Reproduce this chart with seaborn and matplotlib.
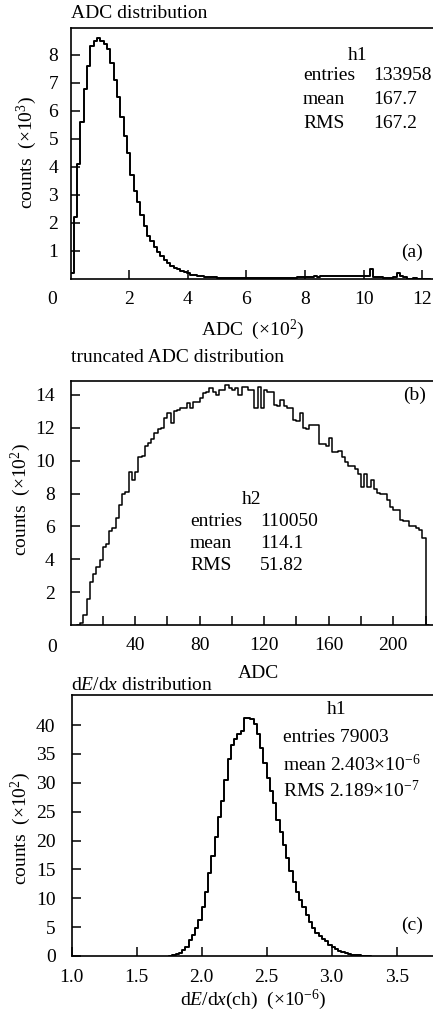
import numpy as np
import pandas as pd
import matplotlib
matplotlib.use("Agg")
import matplotlib.pyplot as plt
import seaborn as sns

# ---------------- data ----------------
# (a) ADC distribution, x in units of 10^2 ADC, counts in units of 10^3
adc_bin_start = 0.0
adc_bin_width = 0.1136
adc_counts = [
    0.2, 2.2, 4.1, 5.6, 6.8, 7.6, 8.3, 8.5, 8.6, 8.5,
    8.4, 8.2, 7.7, 7.1, 6.5, 5.8, 5.1, 4.5, 3.7, 3.15,
    2.75, 2.3, 1.9, 1.55, 1.35, 1.15, 0.97, 0.82, 0.68, 0.57,
    0.47, 0.40, 0.35, 0.30, 0.25, 0.20, 0.16, 0.13, 0.11, 0.09,
    0.08, 0.07, 0.06, 0.06, 0.05, 0.05, 0.05, 0.04, 0.04, 0.04,
    0.03, 0.03, 0.03, 0.03, 0.02, 0.02, 0.02, 0.02, 0.03, 0.02,
    0.03, 0.03, 0.03, 0.04, 0.04, 0.05, 0.04, 0.05, 0.06, 0.07,
    0.06, 0.08, 0.08, 0.09, 0.08, 0.09, 0.10, 0.09, 0.10, 0.11,
    0.10, 0.10, 0.11, 0.10, 0.10, 0.09, 0.10, 0.09, 0.10, 0.09,
    0.36, 0.08, 0.06, 0.06, 0.05, 0.05, 0.05, 0.06, 0.23, 0.12,
    0.06, 0.0, 0.0, 0.05, 0.0, 0.0, 0.0, 0.0,
]

# (b) truncated ADC distribution, counts in units of 10^2
trunc_bin_start = 4
trunc_bin_width = 2
trunc_counts = [
    0.0, 0.1, 0.6, 1.6, 2.6, 3.1, 3.5, 3.95, 4.75, 4.9,
    5.7, 5.9, 6.5, 7.3, 8.0, 8.1, 9.3, 8.8, 9.3, 10.2,
    10.3, 10.9, 11.1, 11.3, 11.7, 11.9, 12.0, 12.6, 12.9, 12.3,
    13.0, 13.1, 13.2, 13.2, 13.5, 13.2, 13.6, 13.6, 13.8, 14.1,
    14.2, 14.4, 14.2, 14.0, 14.3, 14.3, 14.6, 14.4, 14.3, 14.4,
    14.0, 14.5, 14.5, 14.3, 14.3, 13.2, 14.5, 13.2, 14.3, 14.2,
    14.2, 13.4, 13.3, 13.7, 13.3, 13.2, 13.2, 12.5, 12.4, 12.9,
    12.0, 11.9, 12.2, 12.2, 12.2, 11.0, 11.0, 10.9, 11.4, 10.5,
    10.5, 10.6, 10.2, 9.9, 9.7, 9.7, 9.5, 9.2, 8.4, 9.2,
    8.4, 8.85, 8.25, 8.05, 8.0, 8.0, 7.6, 7.2, 7.0, 7.0,
    6.4, 6.3, 6.3, 6.0, 6.0, 5.9, 5.8, 5.3, 0.0,
]

# (c) dE/dx distribution, x in units of 10^-6, counts in units of 10^2
dedx_bin_start = 1.750
dedx_bin_width = 0.025
dedx_counts = [
    0.0, 0.1, 0.3, 0.6, 1.1, 1.6, 2.7, 3.6, 4.8, 6.2,
    8.5, 11.1, 14.3, 17.4, 20.6, 24.0, 26.9, 30.5, 34.1, 36.5,
    37.5, 38.4, 39.0, 41.2, 41.2, 41.1, 40.1, 38.5, 36.0, 33.5,
    30.8, 28.5, 26.5, 23.5, 21.5, 19.3, 17.0, 14.8, 12.8, 11.1,
    9.65, 8.5, 7.07, 5.9, 4.8, 4.0, 3.4, 2.9, 2.6, 1.9,
    1.6, 1.26, 0.86, 0.7, 0.57, 0.34, 0.25, 0.17, 0.12, 0.08,
    0.05, 0.0,
]

stats_a = [("entries", "133958"), ("mean", "167.7"), ("RMS", "167.2")]
stats_b = [("entries", "110050"), ("mean", "114.1"), ("RMS", "51.82")]
stats_c = ["entries 79003", r"mean 2.403$\times$10$^{-6}$", r"RMS 2.189$\times$10$^{-7}$"]

# ---------------- style ----------------
sns.set_style("ticks")
plt.rcParams["font.family"] = ["Liberation Serif", "DejaVu Serif"]
plt.rcParams["mathtext.fontset"] = "custom"
plt.rcParams["mathtext.rm"] = "Liberation Serif"
plt.rcParams["mathtext.it"] = "Liberation Serif:italic"
plt.rcParams["axes.linewidth"] = 1.2
for key in ["text.color", "axes.labelcolor", "xtick.color", "ytick.color", "axes.edgecolor"]:
    plt.rcParams[key] = "black"
FS = 14

W, H = 433, 1017
fig = plt.figure(figsize=(W / 100, H / 100), dpi=100)


def px(x, y):
    return x / W, 1 - y / H


def make_ax(top, bottom, left=70.5):
    return fig.add_axes([left / W, 1 - bottom / H, 1 - left / W, (bottom - top) / H])


def hist(ax, start, width, counts, lw):
    edges = [start + width * i for i in range(len(counts) + 1)]
    centers = [e + width / 2 for e in edges[:-1]]
    df = pd.DataFrame({"x": centers, "w": counts})
    sns.histplot(data=df, x="x", weights="w", bins=edges, element="step",
                 fill=False, color="black", linewidth=lw, ax=ax)


def style(ax, ypad):
    ax.spines["right"].set_visible(False)
    ax.tick_params(axis="both", direction="in", length=6.5, width=1.1,
                   labelsize=FS, top=False, right=False)
    ax.tick_params(axis="x", pad=9.0)
    ax.tick_params(axis="y", pad=ypad)


# ---- (a) ----
ax_a = make_ax(28, 279)
hist(ax_a, adc_bin_start, adc_bin_width, adc_counts, 1.4)
ax_a.set_xlim(0, 12.37)
ax_a.set_ylim(0, 8.96)
ax_a.set_xticks([2, 4, 6, 8, 10, 12])
ax_a.set_yticks([1, 2, 3, 4, 5, 6, 7, 8])
style(ax_a, 9)
ax_a.set_xlabel(r"ADC  ($\times$10$^{2}$)", fontsize=FS, va="center")
ax_a.xaxis.set_label_coords(*px(253, 330), transform=fig.transFigure)
ax_a.set_ylabel(r"counts  ($\times$10$^{3}$)", fontsize=FS, va="center")
ax_a.yaxis.set_label_coords(*px(27, 153), transform=fig.transFigure)
fig.text(*px(71, 14), "ADC distribution", fontsize=FS, ha="left", va="center")
fig.text(*px(52, 300), "0", fontsize=FS, ha="center", va="center")
fig.text(*px(358, 55), "h1", fontsize=FS, ha="center", va="center")
for (k, v), yy in zip(stats_a, [76, 100, 123]):
    fig.text(*px(303, yy), k, fontsize=FS, ha="left", va="center")
    fig.text(*px(373, yy), v, fontsize=FS, ha="left", va="center")
fig.text(*px(412, 252), "(a)", fontsize=FS, ha="center", va="center")

# ---- (b) ----
ax_b = make_ax(381, 625)
hist(ax_b, trunc_bin_start, trunc_bin_width, trunc_counts, 1.1)
ax_b.set_xlim(0, 224.6)
ax_b.set_ylim(0, 14.85)
xt = list(range(20, 221, 20))
ax_b.set_xticks(xt)
ax_b.set_xticklabels([str(t) if t % 40 == 0 and t <= 200 else "" for t in xt])
ax_b.set_yticks([2, 4, 6, 8, 10, 12, 14])
style(ax_b, 11.5)
ax_b.set_xlabel("ADC", fontsize=FS, va="center")
ax_b.xaxis.set_label_coords(*px(258, 673), transform=fig.transFigure)
ax_b.set_ylabel(r"counts  ($\times$10$^{2}$)", fontsize=FS, va="center")
ax_b.yaxis.set_label_coords(*px(21, 500), transform=fig.transFigure)
fig.text(*px(71, 357), "truncated ADC distribution", fontsize=FS, ha="left", va="center")
fig.text(*px(52, 647), "0", fontsize=FS, ha="center", va="center")
fig.text(*px(252, 500), "h2", fontsize=FS, ha="center", va="center")
for (k, v), yy in zip(stats_b, [521, 543, 565]):
    fig.text(*px(190, yy), k, fontsize=FS, ha="left", va="center")
    fig.text(*px(260, yy), v, fontsize=FS, ha="left", va="center")
fig.text(*px(415, 395), "(b)", fontsize=FS, ha="center", va="center")

# ---- (c) ----
ax_c = make_ax(695, 956, left=71.5)
hist(ax_c, dedx_bin_start, dedx_bin_width, dedx_counts, 1.4)
ax_c.set_xlim(1.0, 3.779)
ax_c.set_ylim(0, 45.2)
ax_c.set_xticks([1.0, 1.5, 2.0, 2.5, 3.0, 3.5])
ax_c.set_xticklabels(["1.0", "1.5", "2.0", "2.5", "3.0", "3.5"])
ax_c.set_yticks([0, 5, 10, 15, 20, 25, 30, 35, 40])
style(ax_c, 11.5)
ax_c.set_xlabel(r"d$E$/d$x$(ch)  ($\times$10$^{-6}$)", fontsize=FS, va="center")
ax_c.xaxis.set_label_coords(*px(253, 1000), transform=fig.transFigure)
ax_c.set_ylabel(r"counts  ($\times$10$^{2}$)", fontsize=FS, va="center")
ax_c.yaxis.set_label_coords(*px(21, 829), transform=fig.transFigure)
fig.text(*px(71, 685), r"d$E$/d$x$ distribution", fontsize=FS, ha="left", va="center")
fig.text(*px(337, 710), "h1", fontsize=FS, ha="center", va="center")
for s, yy in zip(stats_c, [738, 765, 790]):
    fig.text(*px(283, yy), s, fontsize=FS, ha="left", va="center")
fig.text(*px(412, 925), "(c)", fontsize=FS, ha="center", va="center")

fig.savefig("out.png", dpi=100)
